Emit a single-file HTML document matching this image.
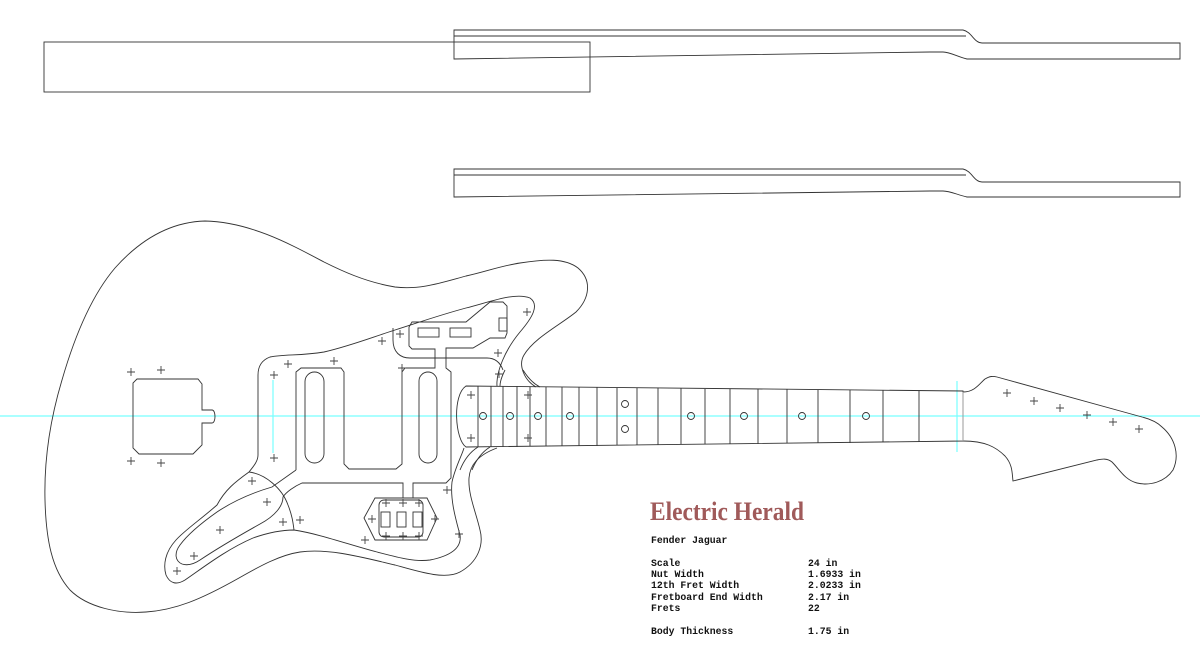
<!DOCTYPE html>
<html><head><meta charset="utf-8"><style>
html,body{margin:0;padding:0;background:#fff;width:1200px;height:647px;overflow:hidden}
svg{display:block}
.l{fill:none;stroke:#333;stroke-width:0.9}
.g{fill:none;stroke:#999;stroke-width:1}
.c{fill:none;stroke:#7ff;stroke-width:1.2}
.mono{font-family:"Liberation Mono",monospace;font-size:9.8px;font-weight:bold;fill:#111}
</style></head><body>
<svg width="1200" height="647" viewBox="0 0 1200 647" xmlns="http://www.w3.org/2000/svg">
<defs>
<g id="x"><path d="M-4,0H4M0,-4V4" stroke="#444" stroke-width="0.9"/></g>
</defs>
<rect x="44" y="42" width="546" height="50" class="l"/>
<path class="l" d="M454,30H963C972,32 974,43 982,43H1180V59H967C958,57 950,52 943,52H930L454,59Z M454,36H966"/>
<path class="l" d="M454,169H963C972,171 974,182 982,182H1180V197H967C958,195 950,191 943,191H930L454,197Z M454,175H966"/>
<line x1="0" y1="416" x2="1200" y2="416" class="c"/>
<line x1="273" y1="380" x2="273" y2="453" class="c"/>
<line x1="957" y1="381" x2="957" y2="452" class="c"/>
<!-- body outline -->
<path class="l" d="M536,387C524,380 518,365 524,355C534,338 560,325 576,312C590,298 592,280 578,268C565,258 545,259 520,263C500,266 485,272 466,276C440,283 420,290 395,287C365,282 340,270 324,262C290,244 250,222 205,221C170,222 140,240 115,268C92,295 75,335 62,380C50,420 44,460 45,500C46,540 52,570 70,590C88,608 120,614 146,612C175,610 200,600 239,578C260,566 280,555 300,552C330,548 365,558 395,565C420,572 445,580 460,572C478,562 484,545 480,530C476,512 468,495 469,478C470,465 478,455 497,448"/>
<!-- pickguard -->
<path class="l" d="M497,386C496,372 505,350 520,332C532,318 540,305 530,298C515,292 490,302 466,308C440,315 420,322 395,330C370,338 350,346 324,352C300,356 285,354 270,357C262,360 258,366 258,375V455C258,462 252,468 249,472C235,482 225,490 217,505C200,520 185,530 176,540C165,552 163,565 166,575C170,584 177,585 185,580C200,570 225,550 253,538C270,532 282,530 294,530C320,534 350,545 377,552C400,558 415,562 430,560C450,556 462,548 460,535C456,520 450,500 452,482C455,468 462,455 464,448"/>
<path class="l" d="M249,472C265,474 282,488 288,505C292,515 293,522 294,530"/>
<path class="l" d="M393,328V340C393,352 400,358 410,358H487C495,358 500,362 503,370"/>
<!-- routes -->
<path class="l" d="M296,470V372L301,368H341L344,372V464L349,469H396L402,464V372L405,368H435V349H412L409,346V327L412,322H466L490,302H503L507,306V333L505,338H490L473,348H446V368L451,372V478L446,483H413V498"/>
<path class="l" d="M296,470L272,487C255,492 235,500 217,512C200,524 188,534 180,545C174,553 175,561 182,564C188,566 194,564 200,560C215,550 235,538 260,524C275,516 283,506 283,497C286,492 295,486 302,483H403V498"/>
<!-- pickup slots -->
<rect x="305" y="372" width="19" height="91" rx="9.5" class="l"/>
<rect x="419" y="372" width="18" height="91" rx="9" class="l"/>
<rect x="418" y="328" width="21" height="9" class="l"/>
<rect x="450" y="328" width="21" height="9" class="l"/>
<rect x="499" y="318" width="8" height="13" class="l"/>
<!-- bridge pickup -->
<path class="l" d="M364,518L375,498H427L437,518L427,540H375Z"/>
<rect x="379" y="500" width="44" height="37" rx="5" class="l"/>
<rect x="381" y="512" width="9" height="15" class="l"/>
<rect x="397" y="512" width="9" height="15" class="l"/>
<rect x="413" y="512" width="9" height="15" class="l"/>
<!-- neck plate -->
<path class="l" d="M137,379H198L202,384V410H212C216,410 216,423 212,423H202V445L193,454H139L133,448V383Z"/>
<!-- fretboard -->
<path class="l" d="M466,386L963,391V441L466,447C455,440 452,395 466,386Z"/>
<path class="l" d="M478,386V447M491,386V447M503,386V447M517,386V447M530,387V446M546,387V446M562,387V446M579,387V446M597,387V446M617,388V445M637,388V445M658,388V445M681,388V444M705,389V444M730,389V444M758,389V444M787,389V443M818,390V443M850,390V443M883,390V442M919,391V442"/>
<g class="l">
<circle cx="483" cy="416" r="3.5"/><circle cx="510" cy="416" r="3.5"/><circle cx="538" cy="416" r="3.5"/><circle cx="570" cy="416" r="3.5"/>
<circle cx="625" cy="404" r="3.5"/><circle cx="625" cy="429" r="3.5"/>
<circle cx="691" cy="416" r="3.5"/><circle cx="744" cy="416" r="3.5"/><circle cx="802" cy="416" r="3.5"/><circle cx="866" cy="416" r="3.5"/>
</g>
<path class="l" d="M523,370C528,378 534,384 540,387M505,370C502,376 500,381 500,386M490,447C482,452 476,460 472,470M478,447C470,452 464,460 460,470"/>
<!-- headstock -->
<path class="l" d="M963,392C975,392 980,383 985,379C990,376 993,376 997,377L1142,417C1150,419 1157,422 1162,427C1175,438 1180,455 1173,470C1165,482 1150,486 1137,483C1125,480 1120,470 1112,462C1107,458 1102,459 1097,460L1013,481C1012,474 1013,465 1005,456C996,447 985,441 963,441"/>
<line x1="963" y1="392" x2="963" y2="441" class="g"/>
<g>
<use href="#x" x="131" y="372"/><use href="#x" x="161" y="370"/><use href="#x" x="131" y="461"/><use href="#x" x="161" y="463"/>
<use href="#x" x="274" y="375"/><use href="#x" x="274" y="458"/><use href="#x" x="288" y="364"/><use href="#x" x="334" y="361"/>
<use href="#x" x="382" y="341"/><use href="#x" x="400" y="334"/><use href="#x" x="402" y="368"/><use href="#x" x="498" y="353"/>
<use href="#x" x="527" y="312"/><use href="#x" x="499" y="374"/>
<use href="#x" x="252" y="481"/><use href="#x" x="267" y="502"/><use href="#x" x="283" y="522"/><use href="#x" x="300" y="520"/>
<use href="#x" x="220" y="530"/><use href="#x" x="194" y="556"/><use href="#x" x="177" y="571"/>
<use href="#x" x="471" y="395"/><use href="#x" x="528" y="395"/><use href="#x" x="471" y="438"/><use href="#x" x="528" y="438"/>
<use href="#x" x="447" y="490"/><use href="#x" x="459" y="534"/><use href="#x" x="365" y="540"/>
<use href="#x" x="386" y="503"/><use href="#x" x="403" y="503"/><use href="#x" x="419" y="503"/>
<use href="#x" x="386" y="536"/><use href="#x" x="403" y="536"/><use href="#x" x="419" y="536"/>
<use href="#x" x="372" y="519"/><use href="#x" x="435" y="519"/>
<use href="#x" x="1007" y="393"/><use href="#x" x="1034" y="401"/><use href="#x" x="1060" y="408"/><use href="#x" x="1087" y="415"/><use href="#x" x="1113" y="422"/><use href="#x" x="1139" y="429"/>
</g>
<text x="650" y="520" font-family="Liberation Serif, serif" font-size="26" font-weight="bold" fill="#a05a5a" textLength="154" lengthAdjust="spacingAndGlyphs">Electric Herald</text>
<text x="651" y="543" class="mono">Fender Jaguar</text>
<text x="651" y="566" class="mono">Scale</text><text x="808" y="566" class="mono">24 in</text>
<text x="651" y="577" class="mono">Nut Width</text><text x="808" y="577" class="mono">1.6933 in</text>
<text x="651" y="588" class="mono">12th Fret Width</text><text x="808" y="588" class="mono">2.0233 in</text>
<text x="651" y="600" class="mono">Fretboard End Width</text><text x="808" y="600" class="mono">2.17 in</text>
<text x="651" y="611" class="mono">Frets</text><text x="808" y="611" class="mono">22</text>
<text x="651" y="634" class="mono">Body Thickness</text><text x="808" y="634" class="mono">1.75 in</text>
</svg>
</body></html>
